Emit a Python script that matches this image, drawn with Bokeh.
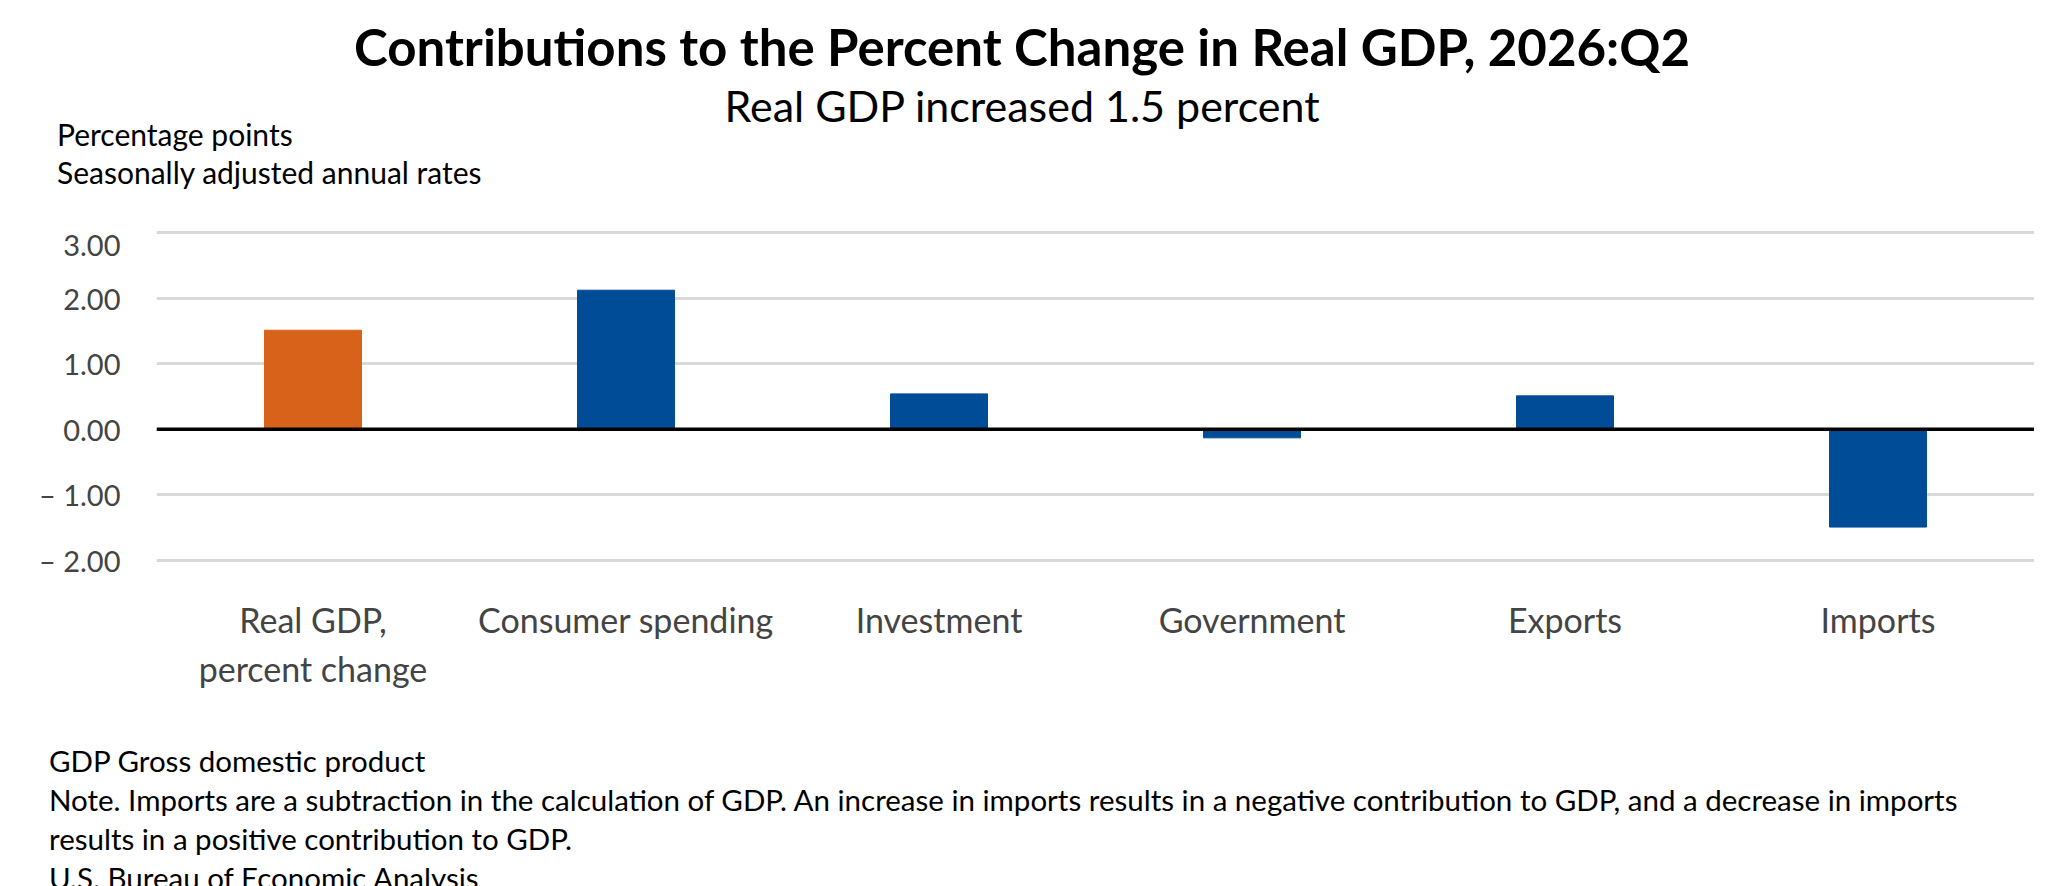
from bokeh.plotting import figure
from bokeh.models import Div, Span, FactorRange, FixedTicker, ColumnDataSource
from bokeh.layouts import column
from bokeh.embed import file_html
from bokeh.resources import INLINE

categories = ["Real GDP,\npercent change", "Consumer spending", "Investment", "Government", "Exports", "Imports"]
values = [1.51, 2.12, 0.54, -0.13, 0.51, -1.49]
colors = ["#D9621B", "#004C97", "#004C97", "#004C97", "#004C97", "#004C97"]
yticks = [-2, -1, 0, 1, 2, 3]
ytick_labels = ["\u2013 2.00", "\u2013 1.00", "0.00", "1.00", "2.00", "3.00"]

FONT = "Lato"
W = 2034

header = Div(width=W, height=216, styles={"font-family": FONT, "color": "#000"}, text=
    f'<div style="position:relative;width:{W}px;height:216px;">'
    '<div style="position:absolute;top:6px;left:0;width:100%;text-align:center;font-weight:bold;font-size:51px;">Contributions to the Percent Change in Real GDP, 2026:Q2</div>'
    '<div style="position:absolute;top:70px;left:0;width:100%;text-align:center;font-size:43px;">Real GDP increased 1.5 percent</div>'
    '<div style="position:absolute;top:110px;left:52px;font-size:30px;line-height:38px;">Percentage points<br>Seasonally adjusted annual rates</div>'
    '</div>')

src = ColumnDataSource(dict(x=categories, top=values, color=colors))
p = figure(x_range=FactorRange(*categories, range_padding=0), y_range=(-2.03, 3.03),
           width=W, height=510, output_backend="svg", toolbar_location=None,
           min_border_left=156, min_border_right=0, min_border_top=4, min_border_bottom=174)
p.outline_line_color = None
p.vbar(x="x", top="top", bottom=0, width=0.31, color="color", source=src)
p.add_layout(Span(location=0, dimension="width", line_color="black", line_width=3.5))

p.yaxis.ticker = FixedTicker(ticks=yticks)
p.yaxis.major_label_overrides = {t: l for t, l in zip(yticks, ytick_labels)}
p.yaxis.axis_line_color = None
p.yaxis.major_tick_line_color = None
p.yaxis.minor_tick_line_color = None
p.yaxis.major_label_text_font = FONT
p.yaxis.major_label_text_font_size = "29px"
p.yaxis.major_label_standoff = 30

p.xaxis.axis_line_color = None
p.xaxis.major_tick_line_color = None
p.xaxis.major_label_text_font = FONT
p.xaxis.major_label_text_font_size = "34px"
p.xaxis.major_label_standoff = 30

p.xgrid.grid_line_color = None
p.ygrid.grid_line_color = "#d9d9d9"
p.ygrid.grid_line_width = 3
p.ygrid.ticker = FixedTicker(ticks=yticks)

footer = Div(width=W, height=140, styles={"font-family": FONT, "color": "#000"}, text=
    '<div style="padding-left:44px;font-size:29.5px;line-height:39px;">'
    'GDP Gross domestic product<br>'
    'Note. Imports are a subtraction in the calculation of GDP. An increase in imports results in a negative contribution to GDP, and a decrease in imports<br>'
    'results in a positive contribution to GDP.<br>'
    'U.S. Bureau of Economic Analysis</div>')

layout = column(header, p, footer, spacing=0)
open("out.html", "w").write(file_html(layout, INLINE))
